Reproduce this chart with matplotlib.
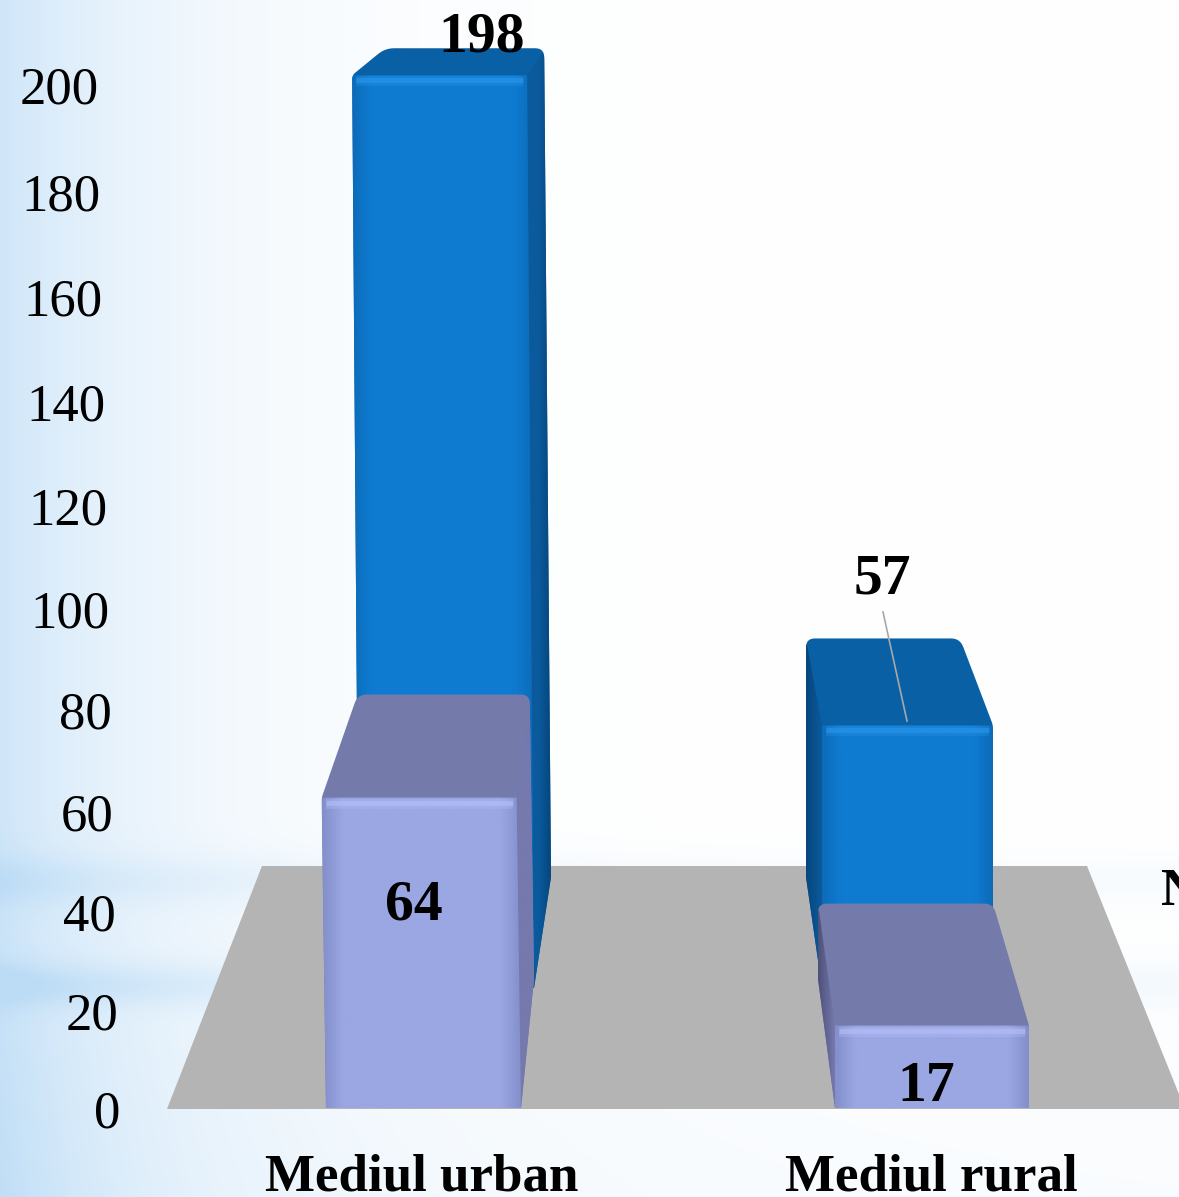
import numpy as np
import matplotlib
matplotlib.use("Agg")
import matplotlib.pyplot as plt
from matplotlib.colors import to_rgb
from matplotlib.patches import Polygon

categories = ["Mediul urban", "Mediul rural"]
back_values = [198, 57]
front_values = [64, 17]
y_ticks = [0, 20, 40, 60, 80, 100, 120, 140, 160, 180, 200]

W, H = 1179, 1197

# layout of the fake 3d scene, in pixels
ROW_BASE = {"back": 988, "front": 1108}
ROW_SCALE = {"back": 4.61, "front": 4.85}
ROW_DEPTH = {"back": (0.092, 218), "front": (0.083, 444)}
# left, right of the front face at the floor, lean per px, back offset left/right
BAR_GEOM = {
    ("back", 0): (359, 534, 0.0075, 33, 17),
    ("back", 1): (822, 993, 0.0, -16, -33),
    ("front", 0): (326, 521, 0.014, 36, 13),
    ("front", 1): (835, 1029, 0.0, -17, -36),
}
BLUE = dict(front="#0f7bd0", top="#0a60a5", side="#0b5a9c", dark="#06467c", rim="#2b98ee", edge="#0c6cba")
LILAC = dict(front="#9aa7e3", top="#747bab", side="#7579ad", dark="#4c5078", rim="#b6c0fb", edge="#8490cc")


def tick_y(v):
    return 1112 - 4.9 * v - 0.0011 * v ** 2


def depth(row, y):
    k, off = ROW_DEPTH[row]
    return k * (y + off)


def background():
    yy, xx = np.mgrid[0:H, 0:W]
    left = np.exp(-xx / 165.0)
    band = (0.50 * np.exp(-((yy - 985) / 22.0) ** 2)
            + 0.35 * np.exp(-((yy - 880) / 25.0) ** 2)
            + 0.30 * np.clip((yy - 820) / 380.0, 0, 1))
    fade_x = 0.30 + 0.70 * np.exp(-xx / 420.0)
    amount = np.clip(0.72 * left + 0.75 * band * fade_x, 0, 1)
    low = np.array(to_rgb("#ffffff"))
    high = np.array(to_rgb("#bcdcf6"))
    return low + (high - low) * amount[..., None]


def round_corners(verts, radii):
    # swap each corner for a small quadratic curve, radius 0 keeps it sharp
    verts = [np.array(v, dtype=float) for v in verts]
    out = []
    n = len(verts)
    for i, p in enumerate(verts):
        r = radii[i]
        if r == 0:
            out.append(p)
            continue
        a = verts[i - 1]
        b = verts[(i + 1) % n]
        p0 = p + (a - p) / np.linalg.norm(a - p) * r
        p1 = p + (b - p) / np.linalg.norm(b - p) * r
        for t in np.linspace(0, 1, 8):
            out.append((1 - t) ** 2 * p0 + 2 * t * (1 - t) * p + t ** 2 * p1)
    return np.array(out)


def gradient_poly(ax, verts, colors, zorder, horizontal=True):
    verts = np.array(verts, dtype=float)
    patch = Polygon(verts, closed=True, fc="none", ec="none", transform=ax.transData)
    ax.add_patch(patch)
    rgb = np.array([to_rgb(c) for c in colors])
    pos = np.linspace(0, len(colors) - 1, 64)
    grad = np.stack([np.interp(pos, np.arange(len(colors)), rgb[:, i]) for i in range(3)], axis=-1)
    img = grad[np.newaxis, :, :] if horizontal else grad[:, np.newaxis, :]
    x0, x1, y0, y1 = verts[:, 0].min(), verts[:, 0].max(), verts[:, 1].min(), verts[:, 1].max()
    im = ax.imshow(img, extent=(x0, x1, y1, y0), aspect="auto", zorder=zorder, interpolation="bilinear")
    im.set_clip_path(patch)


def draw_bar(ax, row, cat, value, pal, zorder):
    left, right, lean, dl, dr = BAR_GEOM[(row, cat)]
    base = ROW_BASE[row]
    y_top = base - ROW_SCALE[row] * value
    d_top = depth(row, y_top)
    d_base = depth(row, base)
    shift = (base - y_top) * lean
    fl, fr = left - shift, right - shift

    front_tl, front_tr = (fl, y_top), (fr, y_top)
    front_bl, front_br = (left, base), (right, base)
    back_tl = (fl + dl, y_top - d_top)
    back_tr = (fr + dr, y_top - d_top)
    back_bl = (left + dl, base - d_base)
    back_br = (right + dr, base - d_base)

    # whole outline in the top colour first, that also gives the top face
    if dl > 0:
        outline = [front_bl, front_tl, back_tl, back_tr, back_br, front_br]
        radii = [0, 4, 9, 9, 0, 0]
        front_radii = [4, 0, 0, 0]
    else:
        outline = [back_bl, back_tl, back_tr, front_tr, front_br, front_bl]
        radii = [0, 9, 9, 4, 0, 0]
        front_radii = [0, 4, 0, 0]
    ax.add_patch(Polygon(round_corners(outline, radii), closed=True, fc=pal["top"], ec="none",
                         zorder=zorder))

    # side wall, the one facing the middle of the scene
    if dl > 0:
        gradient_poly(ax, round_corners([front_tr, back_tr, back_br, front_br], [0, 12, 0, 0]),
                      [pal["side"], pal["side"], pal["dark"] if pal is BLUE else pal["side"]], zorder + 0.1)
    else:
        gradient_poly(ax, round_corners([back_tl, front_tl, front_bl, back_bl], [12, 0, 0, 0]),
                      [pal["dark"], pal["side"]], zorder + 0.1)

    # front face with soft edges
    gradient_poly(ax, round_corners([front_tl, front_tr, front_br, front_bl], front_radii),
                  [pal["edge"], pal["front"], pal["front"], pal["front"], pal["front"], pal["front"],
                   pal["front"], pal["front"], pal["front"], pal["front"], pal["edge"]], zorder + 0.2)
    # rim light along the top edge of the front face
    rim_x = [fl + 4, fr - 4]
    ax.plot(rim_x, [y_top + 6, y_top + 6], color=pal["rim"], lw=7, alpha=0.3,
            solid_capstyle="butt", zorder=zorder + 0.3)
    ax.plot(rim_x, [y_top + 5, y_top + 5], color=pal["rim"], lw=3.5, alpha=0.55,
            solid_capstyle="butt", zorder=zorder + 0.3)


fig = plt.figure(figsize=(W / 100, H / 100), dpi=100)
ax = fig.add_axes([0, 0, 1, 1])
ax.imshow(background(), extent=(0, W, H, 0), aspect="auto", zorder=0)

# floor
ax.add_patch(Polygon([(167, 1109), (262, 866), (1087, 866), (1185, 1109)], closed=True,
                     fc="#b4b4b4", ec="none", zorder=1))

for i in range(len(categories)):
    draw_bar(ax, "back", i, back_values[i], BLUE, 2 + i)
for i in range(len(categories)):
    draw_bar(ax, "front", i, front_values[i], LILAC, 5 + i)

serif = "Liberation Serif"
for v in y_ticks:
    ax.text(120.5 - 0.11 * v, tick_y(v) + 3, str(v), family=serif, fontsize=38, ha="right", va="center",
            color="black", zorder=10)

# value labels sit where the original data labels were dragged to
back_label_xy = [(482, 38), (882, 579)]
front_label_xy = [(414, 905), (926, 1087)]
for v, (x, y) in zip(back_values + front_values, back_label_xy + front_label_xy):
    ax.text(x, y, str(v), family=serif, fontsize=41.5, fontweight="bold", ha="center", va="center",
            color="black", zorder=10)
ax.plot([883, 907], [612, 721], color="#a8a8a8", lw=1.2, zorder=9)

cat_x = [421.5, 931.5]
for x, name in zip(cat_x, categories):
    ax.text(x, 1190.5, name, family=serif, fontsize=38.2, fontweight="bold", ha="center", va="baseline",
            color="black", zorder=10)
ax.text(1161, 892, "N", family=serif, fontsize=38, fontweight="bold", ha="left", va="center",
        color="black", zorder=10, clip_on=True)

ax.set_xlim(0, W)
ax.set_ylim(H, 0)
ax.axis("off")
fig.savefig("out.png", dpi=100)
